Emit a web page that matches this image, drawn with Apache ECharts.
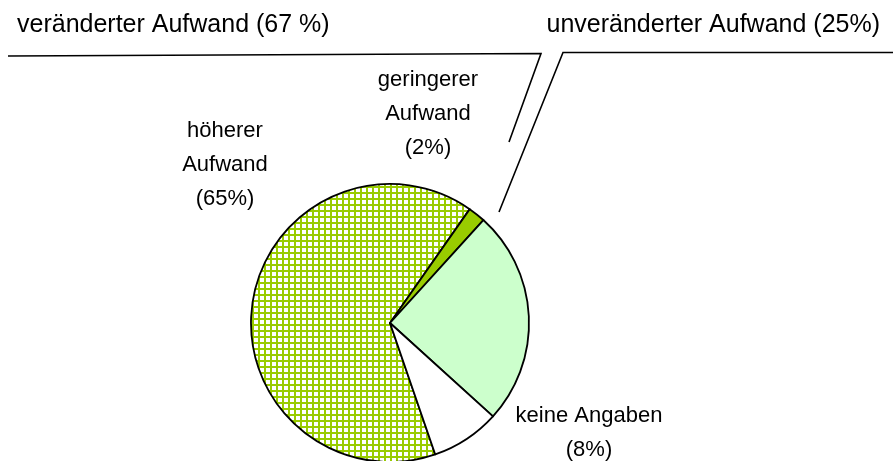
<!DOCTYPE html>
<html>
<head>
<meta charset="utf-8">
<script src="https://cdn.jsdelivr.net/npm/echarts@6/dist/echarts.min.js"></script>
<style>
html,body{margin:0;padding:0;background:#fff;}
#chart{width:893px;height:461px;}
</style>
</head>
<body>
<div id="chart"></div>
<script>
// Data
const categories = ['höherer Aufwand', 'geringerer Aufwand', 'unveränderter Aufwand', 'keine Angaben'];
const values = [65, 2, 25, 8];
const labelTexts = ['höherer\nAufwand', 'geringerer\nAufwand', '', 'keine Angaben'];
const groupLabels = ['veränderter Aufwand (67 %)', 'unveränderter Aufwand (25%)'];

// hatch pattern
const pat = document.createElement('canvas');
pat.width = 6; pat.height = 6;
const pc = pat.getContext('2d');
pc.fillStyle = '#ffffff'; pc.fillRect(0,0,6,6);
pc.fillStyle = '#99cc00';
pc.fillRect(0,0,2,6);
pc.fillRect(0,0,6,2);

const fills = [
  {image: pat, repeat: 'repeat'},
  '#99cc00',
  '#ccffcc',
  '#ffffff'
];
const labelPos = [
  {x: 225, y: 165},
  {x: 428, y: 114},
  null,
  {x: 589, y: 433}
];

const font = '"Liberation Sans", Arial, sans-serif';
const chart = echarts.init(document.getElementById('chart'), null, {renderer: 'canvas'});
chart.setOption({
  animation: false,
  backgroundColor: '#fff',
  series: [{
    type: 'pie',
    center: [390, 323],
    radius: 139,
    startAngle: -71,
    clockwise: true,
    avoidLabelOverlap: false,
    data: categories.map((n, i) => ({
      name: n,
      value: values[i],
      itemStyle: {color: fills[i]},
      label: {show: !!labelTexts[i]}
    })),
    itemStyle: {borderColor: '#000', borderWidth: 1.8},
    label: {
      show: true,
      position: 'outside',
      formatter: p => labelTexts[p.dataIndex] + '\n(' + p.value + '%)',
      fontFamily: font,
      fontSize: 22,
      lineHeight: 34,
      color: '#000',
      align: 'center'
    },
    labelLine: {show: false},
    labelLayout: p => {
      const lp = labelPos[p.dataIndex];
      if (!lp) return {};
      return {x: lp.x, y: lp.y, align: 'center', verticalAlign: 'middle'};
    },
    emphasis: {disabled: true}
  }],
  graphic: [
    {type: 'polyline', shape: {points: [[8, 56], [541, 53.5], [509, 142]]},
     style: {stroke: '#000', lineWidth: 1.6, fill: null}},
    {type: 'polyline', shape: {points: [[893, 52.5], [563, 52.5], [499, 212]]},
     style: {stroke: '#000', lineWidth: 1.6, fill: null}},
    {type: 'text', x: 17, y: 25.5,
     style: {text: groupLabels[0], font: '25px ' + font, fill: '#000', textAlign: 'left', textVerticalAlign: 'middle'}},
    {type: 'text', x: 880, y: 25.5,
     style: {text: groupLabels[1], font: '25px ' + font, fill: '#000', textAlign: 'right', textVerticalAlign: 'middle'}}
  ]
});
</script>
</body>
</html>
